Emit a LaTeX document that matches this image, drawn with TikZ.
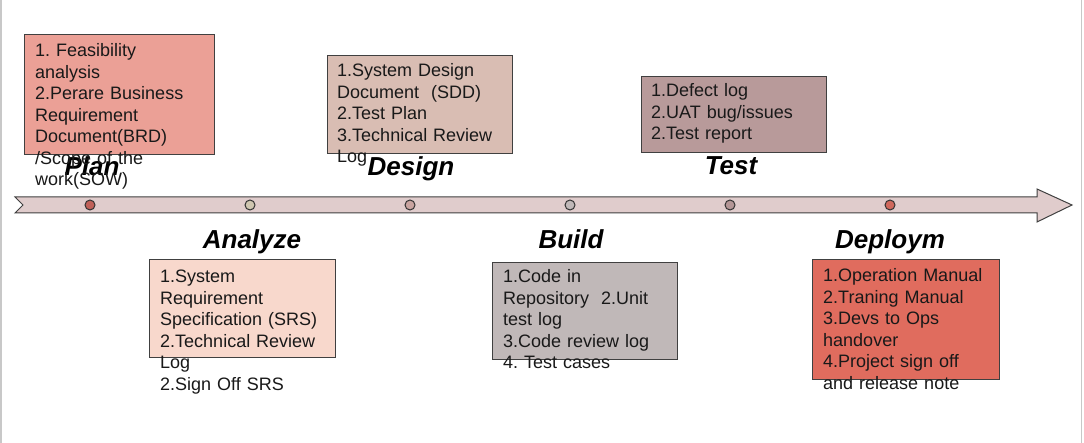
\documentclass[tikz,border=0pt]{standalone}
\usepackage{fontspec}
\setmainfont{Liberation Sans}
\frenchspacing
\definecolor{planfill}{HTML}{EBA096}
\definecolor{designfill}{HTML}{D9BDB3}
\definecolor{testfill}{HTML}{B89A9A}
\definecolor{analyzefill}{HTML}{F8D8CC}
\definecolor{buildfill}{HTML}{C0B8B8}
\definecolor{deployfill}{HTML}{E06C5E}
\definecolor{arrowfill}{HTML}{E0CCCC}
\definecolor{edgegray}{HTML}{404040}
\definecolor{sidegray}{HTML}{C8C8C8}
\definecolor{dotplan}{HTML}{C06058}
\definecolor{dotanalyze}{HTML}{CFC6B0}
\definecolor{dotdesign}{HTML}{C9A4A0}
\definecolor{dotbuild}{HTML}{C0B8B8}
\definecolor{dottest}{HTML}{B49696}
\definecolor{dotdeploy}{HTML}{D0685C}
\tikzset{
  phasebox/.style={draw=edgegray, line width=1pt, anchor=north west, inner sep=0pt},
  itemtext/.style={anchor=base west, inner sep=0pt, text width=240pt, align=left,
    font=\fontsize{18}{21.5}\selectfont, text=black!90},
  phasetitle/.style={anchor=base, inner sep=0pt, font=\fontsize{26}{30}\selectfont\bfseries\itshape},
  milestone/.style={circle, draw=black!80, line width=1pt, minimum size=10pt, inner sep=0pt}
}
\begin{document}
\begin{tikzpicture}[x=1pt,y=-1pt]
\useasboundingbox (0,0) rectangle (1084,443);
\fill[white] (0,0) rectangle (1084,443);
\draw[sidegray, line width=1.6pt] (1,0) -- (1,443);
\draw[sidegray, line width=1.6pt] (1081.5,0) -- (1081.5,443);
% timeline arrow
\draw[edgegray, fill=arrowfill, line width=1pt, line join=miter]
  (15,197) -- (1037,197) -- (1037,189) -- (1072,205) -- (1037,222) -- (1037,213)
  -- (15,213) -- (23,205) -- cycle;
\node[milestone, fill=dotplan] at (90,205) (mplan) {};
\node[milestone, fill=dotanalyze] at (250,205) (manalyze) {};
\node[milestone, fill=dotdesign] at (410,205) (mdesign) {};
\node[milestone, fill=dotbuild] at (570,205) (mbuild) {};
\node[milestone, fill=dottest] at (730,205) (mtest) {};
\node[milestone, fill=dotdeploy] at (890,205) (mdeploy) {};
% boxes
\node[phasebox, fill=planfill, minimum width=190pt, minimum height=120pt] (bplan) at (24,34) {};
\node[phasebox, fill=designfill, minimum width=185pt, minimum height=98pt] (bdesign) at (327,55) {};
\node[phasebox, fill=testfill, minimum width=185pt, minimum height=76pt] (btest) at (641,76) {};
\node[phasebox, fill=analyzefill, minimum width=186pt, minimum height=98pt] (banalyze) at (149,259) {};
\node[phasebox, fill=buildfill, minimum width=185pt, minimum height=97pt] (bbuild) at (492,262) {};
\node[phasebox, fill=deployfill, minimum width=187pt, minimum height=120pt] (bdeploy) at (812,259) {};
% titles
\node[phasetitle] (tplan) at (92,176) {Plan};
\node[phasetitle] (tdesign) at (411,176) {Design};
\node[phasetitle] (ttest) at (731,175) {Test};
\node[phasetitle] (tanalyze) at (252,249) {Analyze};
\node[phasetitle] (tbuild) at (571,249) {Build};
\node[phasetitle] (tdeploy) at (890,249) {Deploym};
% texts
\node[itemtext] (xplan) at (35,57) {1. Feasibility\\analysis\\2.Perare Business\\Requirement\\Document(BRD)\\/Scope of the\\work(SOW)};
\node[itemtext] (xdesign) at (337,77) {1.System Design\\Document\ \ (SDD)\\2.Test Plan\\3.Technical Review\\Log};
\node[itemtext] (xtest) at (651,97) {1.Defect log\\2.UAT bug/issues\\2.Test report};
\node[itemtext] (xanalyze) at (160,283) {1.System\\Requirement\\Specification (SRS)\\2.Technical Review\\Log\\2.Sign Off SRS};
\node[itemtext] (xbuild) at (503,283) {1.Code in\\Repository\ \ 2.Unit\\test log\\3.Code review log\\4. Test cases};
\node[itemtext] (xdeploy) at (823,282) {1.Operation Manual\\2.Traning Manual\\3.Devs to Ops\\handover\\4.Project sign off\\and release note};
\end{tikzpicture}
\end{document}
